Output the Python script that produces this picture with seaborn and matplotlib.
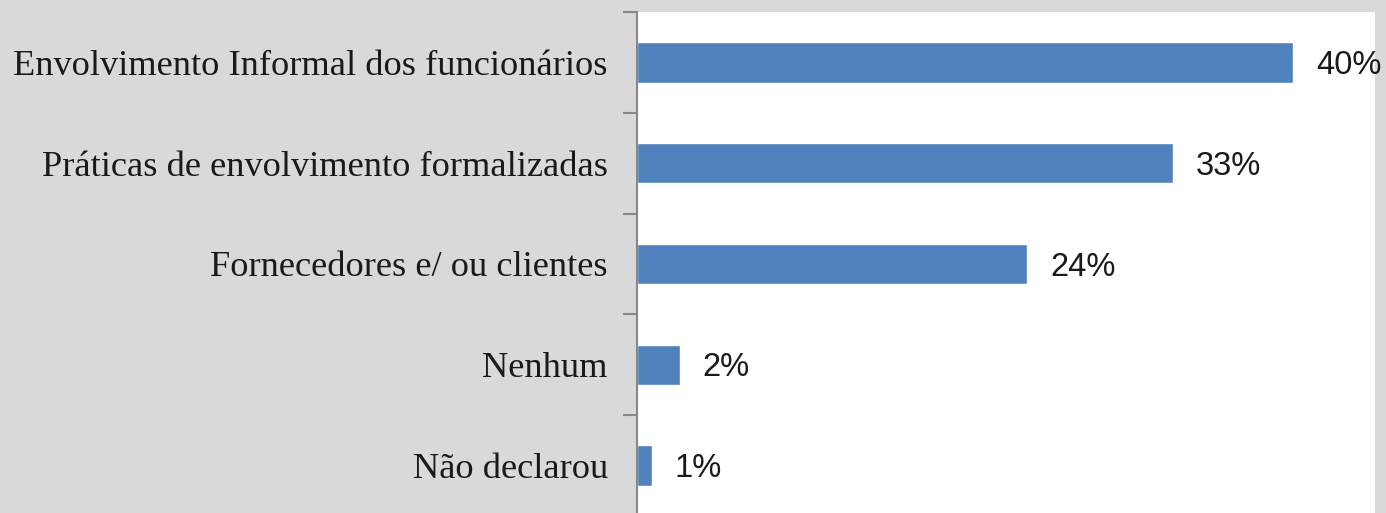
import matplotlib
matplotlib.use('Agg')
import matplotlib.pyplot as plt
import numpy as np
import pandas as pd
import seaborn as sns

categories = [
    "Envolvimento Informal dos funcionários",
    "Práticas de envolvimento formalizadas",
    "Fornecedores e/ ou clientes",
    "Nenhum",
    "Não declarou",
]
values = [0.40, 0.327, 0.238, 0.026, 0.009]
value_labels = ["40%", "33%", "24%", "2%", "1%"]

df = pd.DataFrame({"categoria": categories, "valor": values})

sns.set_theme(style="white")

fig = plt.figure(figsize=(13.86, 5.13), dpi=100)
fig.patch.set_facecolor("#D9D9D9")
ax = fig.add_axes([637 / 1386, -3 / 513, 738 / 1386, 504 / 513])
ax.set_facecolor("white")

sns.barplot(data=df, x="valor", y="categoria", color="#4F81BD", saturation=1,
            width=0.4, ax=ax)

ax.set_xlim(0, 0.45)
ax.set_ylim(len(categories) - 0.5, -0.5)
ax.set_xlabel("")
ax.set_ylabel("")
ax.set_xticks([])

for s in ["top", "right", "bottom"]:
    ax.spines[s].set_visible(False)
ax.spines["left"].set_color("#888888")
ax.spines["left"].set_linewidth(1.5)

ax.set_yticks(range(len(categories)))
ax.set_yticklabels(categories, fontfamily="Liberation Serif", fontsize=26.2, color="#1a1a1a")
ax.tick_params(axis="y", which="major", length=0, pad=21)
ax.set_yticks(np.arange(-0.5, len(categories), 1), minor=True)
ax.tick_params(axis="y", which="minor", length=10, width=1.5, color="#888888", left=True)

for i, (v, lab) in enumerate(zip(values, value_labels)):
    ax.text(v + 0.014, i + 0.03, lab, va="center", ha="left", fontsize=23.5,
            fontfamily="Liberation Sans", color="#1a1a1a", clip_on=False)

fig.savefig("out.png", dpi=100, facecolor=fig.get_facecolor())
